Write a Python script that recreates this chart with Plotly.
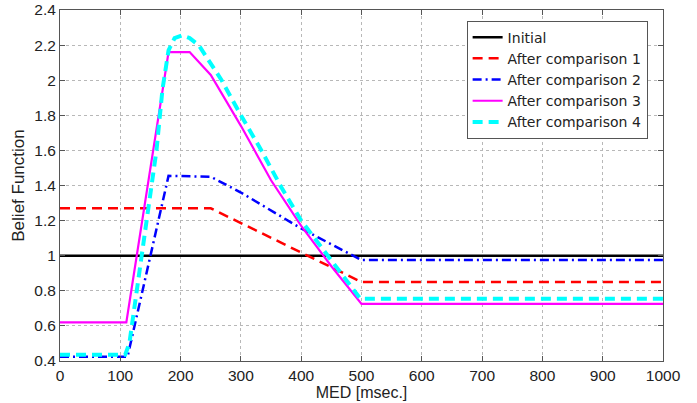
import plotly.graph_objects as go

# ---- data ----
series_names = ["Initial", "After comparison 1", "After comparison 2",
                "After comparison 3", "After comparison 4"]

x_initial = [0, 1000]
y_initial = [1.0, 1.0]

x_comp1 = [0, 250, 500, 1000]
y_comp1 = [1.27, 1.27, 0.85, 0.85]

x_comp2 = [0, 112, 180, 250, 300, 400, 500, 1000]
y_comp2 = [0.424, 0.424, 1.455, 1.45, 1.36, 1.155, 0.975, 0.975]

x_comp3 = [0, 110, 180, 215, 250, 300, 350, 400, 450, 500, 1000]
y_comp3 = [0.62, 0.62, 2.16, 2.16, 2.03, 1.74, 1.43, 1.17, 0.94, 0.725, 0.725]

x_comp4 = [0, 108, 115, 135, 160, 170, 180, 190, 202, 215, 230, 268,
           300, 334, 367, 400, 450, 498, 1000]
y_comp4 = [0.435, 0.435, 0.5, 1.0, 1.6, 1.95, 2.17, 2.24, 2.255, 2.24, 2.2, 2.0,
           1.8, 1.6, 1.39, 1.2, 0.97, 0.755, 0.755]

x_ticks = [0, 100, 200, 300, 400, 500, 600, 700, 800, 900, 1000]
x_ticklabels = ["0", "100", "200", "300", "400", "500", "600", "700", "800", "900", "1000"]
y_ticks = [0.4, 0.6, 0.8, 1.0, 1.2, 1.4, 1.6, 1.8, 2.0, 2.2, 2.4]
y_ticklabels = ["0.4", "0.6", "0.8", "1", "1.2", "1.4", "1.6", "1.8", "2", "2.2", "2.4"]

x_title = "MED [msec.]"
y_title = "Belief Function"

FONT = "Liberation Sans, Arial, Helvetica, sans-serif"
LEG_FONT = "DejaVu Sans, Liberation Sans, Arial, sans-serif"
TXT = "#222222"

fig = go.Figure()
fig.add_trace(go.Scatter(x=x_initial, y=y_initial, mode="lines", name=series_names[0],
                         line=dict(color="#000000", width=2.5)))
fig.add_trace(go.Scatter(x=x_comp1, y=y_comp1, mode="lines", name=series_names[1],
                         line=dict(color="#ff0000", width=2.5, dash="10px,6px")))
fig.add_trace(go.Scatter(x=x_comp2, y=y_comp2, mode="lines", name=series_names[2],
                         line=dict(color="#0000ff", width=2.5, dash="9px,4px,2px,4px")))
fig.add_trace(go.Scatter(x=x_comp3, y=y_comp3, mode="lines", name=series_names[3],
                         line=dict(color="#ff00ff", width=2.2)))
fig.add_trace(go.Scatter(x=x_comp4, y=y_comp4, mode="lines", name=series_names[4],
                         line=dict(color="#00ffff", width=4, dash="10px,6px")))

axis_common = dict(
    showline=True, linecolor="#555555", linewidth=1, mirror="ticks",
    ticks="inside", ticklen=5, tickcolor="#555555", tickwidth=1,
    showgrid=True, gridcolor="#b8b8b8", gridwidth=1, griddash="dot",
    zeroline=False, automargin=False,
    tickfont=dict(family=FONT, size=15.5, color=TXT),
)

fig.update_xaxes(range=[0, 1000], tickvals=x_ticks, ticktext=x_ticklabels,
                 title=dict(text=x_title, font=dict(family=FONT, size=16, color=TXT),
                            standoff=0),
                 **axis_common)
fig.update_yaxes(range=[0.4, 2.4], tickvals=y_ticks, ticktext=y_ticklabels,
                 title=dict(text=y_title, font=dict(family=FONT, size=17, color=TXT),
                            standoff=5),
                 **axis_common)

fig.update_layout(
    width=697, height=403,
    margin=dict(l=60, r=34, t=10, b=42),
    paper_bgcolor="white", plot_bgcolor="white",
    font=dict(family=FONT, size=15, color=TXT),
    legend=dict(x=0.9745, y=0.97, xanchor="right", yanchor="top",
                bgcolor="white", bordercolor="#555555", borderwidth=1,
                font=dict(family=LEG_FONT, size=14, color=TXT),
                tracegroupgap=0),
    showlegend=True,
)

fig.write_html("out.html", config={"displayModeBar": False},
               post_script="document.body.style.margin='0';")
